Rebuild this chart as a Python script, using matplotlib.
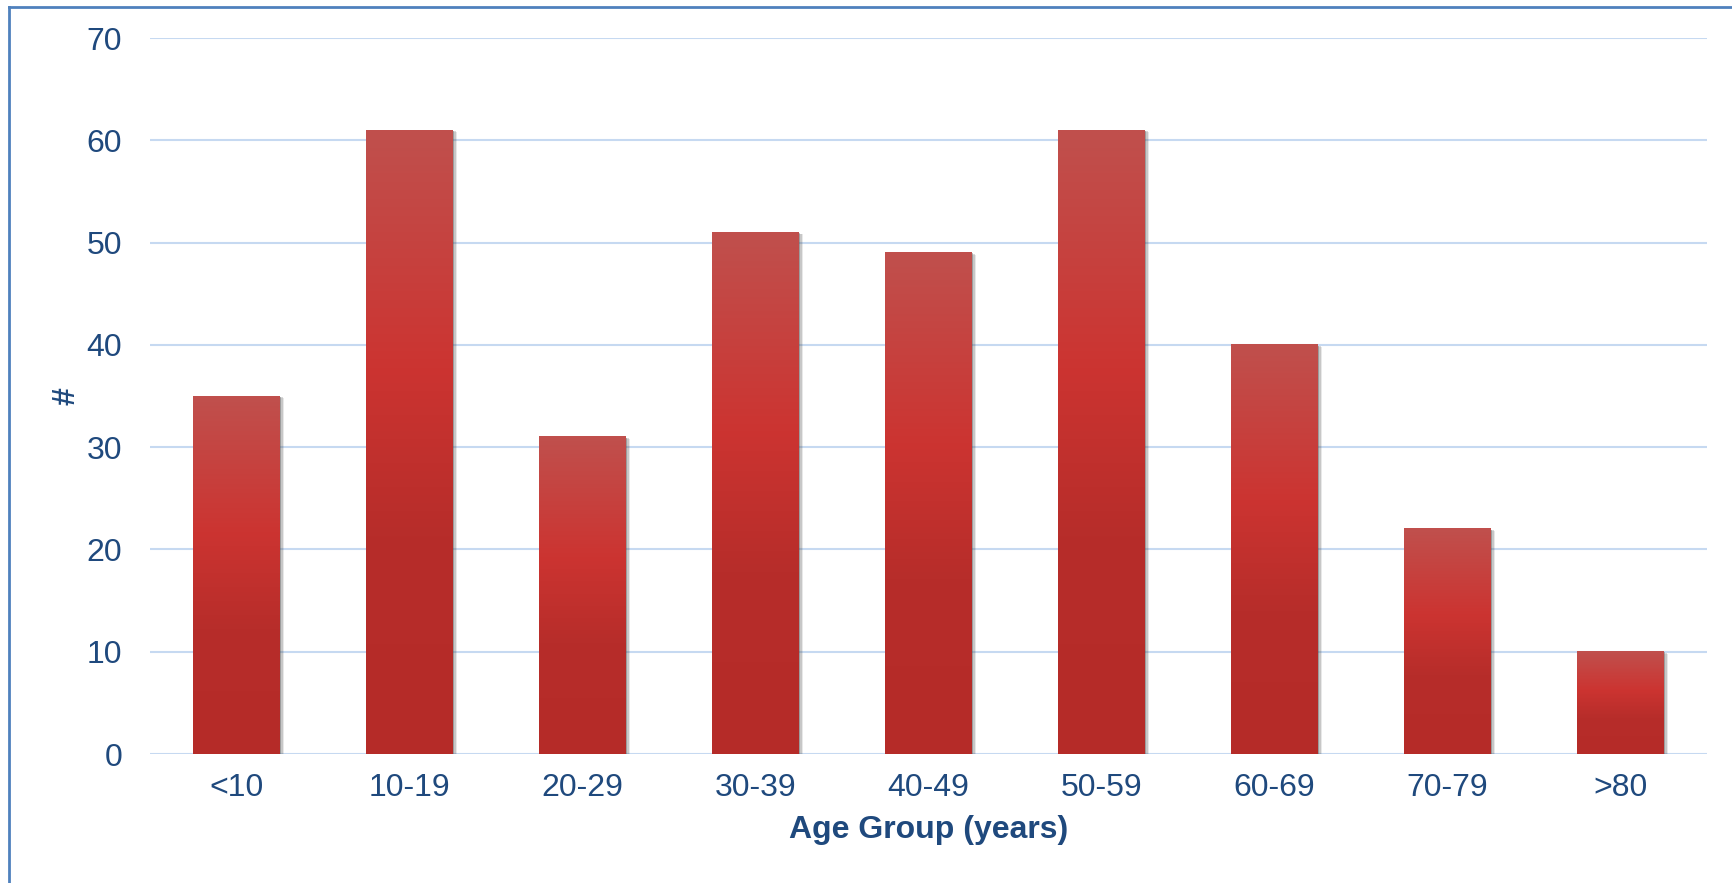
import numpy as np
import matplotlib
matplotlib.use('Agg')
import matplotlib.pyplot as plt
import matplotlib.transforms as mtransforms
from matplotlib.colors import LinearSegmentedColormap
from matplotlib.lines import Line2D
from matplotlib.patches import Rectangle

plt.rcParams['font.family'] = ['Liberation Sans', 'DejaVu Sans']

# data
age_groups = ['<10', '10-19', '20-29', '30-39', '40-49', '50-59', '60-69', '70-79', '>80']
counts = [35, 61, 31, 51, 49, 61, 40, 22, 10]

text_col = '#1f497d'
grid_col = '#c6d9f1'

fig = plt.figure(figsize=(17.32, 8.83), dpi=100)
ax = fig.add_axes([150 / 1732, 1 - 754 / 883, (1707 - 150) / 1732, (754 - 38) / 883])

bars = ax.bar(range(len(age_groups)), counts, width=0.5, color='none', zorder=3)

# vertical gradient, bottom -> top
cmap = LinearSegmentedColormap.from_list('bar', [
    (0.0, '#b52b28'), (0.35, '#b72d2a'), (0.62, '#cc3431'), (1.0, '#c0504d')])
grad = np.linspace(0, 1, 256).reshape(-1, 1)

for p in bars.patches:
    x, w, h = p.get_x(), p.get_width(), p.get_height()
    # soft shadow on the right
    for i, a in enumerate([0.12, 0.20, 0.32]):
        off = mtransforms.offset_copy(ax.transData, fig=fig, x=(3 - i) * 1.0, y=-(3 - i) * 0.5, units='points')
        ax.add_patch(Rectangle((x, 0), w, h, facecolor='#444444', alpha=a, edgecolor='none',
                               transform=off, zorder=2))
    ax.imshow(grad, cmap=cmap, origin='lower', aspect='auto', extent=(x, x + w, 0, h),
              interpolation='bicubic', zorder=3)

ax.set_xlim(-0.5, len(age_groups) - 0.5)
ax.set_ylim(0, 70)
ax.set_yticks(range(0, 71, 10))
ax.set_xticks(range(len(age_groups)))
ax.set_xticklabels(age_groups)

ax.grid(axis='y', color=grid_col, linewidth=1.5, zorder=1)
ax.set_axisbelow(True)
for s in ax.spines.values():
    s.set_visible(False)
ax.tick_params(axis='both', length=0, labelsize=23, labelcolor=text_col)
ax.tick_params(axis='y', pad=20)
ax.tick_params(axis='x', pad=14)

ax.set_xlabel('Age Group (years)', fontsize=23, fontweight='bold', color=text_col, labelpad=8)
ax.set_ylabel('#', fontsize=23, fontweight='bold', color=text_col, labelpad=4)

# outer frame (top and left only)
fig.add_artist(Line2D([9 / 1732, 1], [1 - 7 / 883, 1 - 7 / 883], color='#4f81bd', lw=2, transform=fig.transFigure))
fig.add_artist(Line2D([9 / 1732, 9 / 1732], [0, 1 - 7 / 883], color='#4f81bd', lw=2, transform=fig.transFigure))

fig.savefig('out.png', dpi=100)
